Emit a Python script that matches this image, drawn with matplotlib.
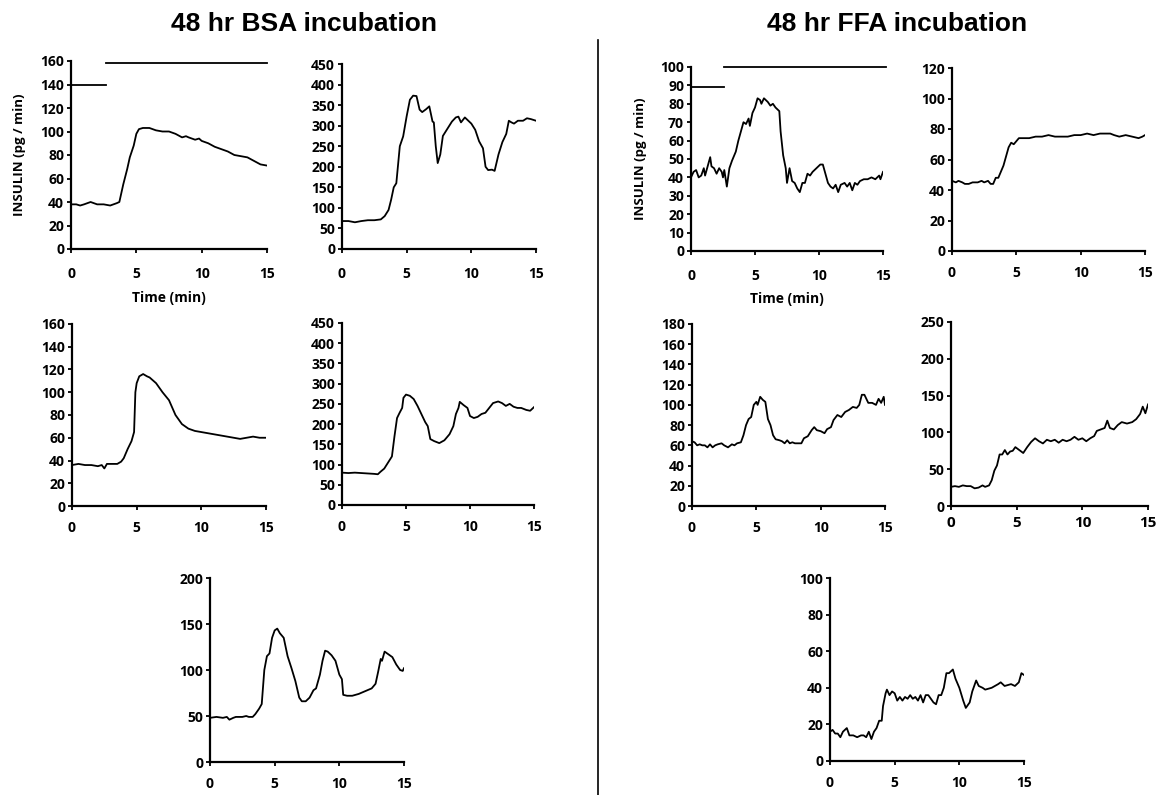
import numpy as np
import matplotlib.pyplot as plt
from matplotlib.lines import Line2D

# ---- data (time in min, insulin in pg/min) ----
bsa1_t = [0, 0.4, 0.7, 1.0, 1.5, 2.0, 2.5, 3.0, 3.5, 3.7, 4.0, 4.3, 4.5, 4.8, 5.0, 5.2, 5.5,
          6.0, 6.5, 7.0, 7.5, 8.0, 8.5, 8.8, 9.0, 9.5, 9.8, 10.0, 10.5, 11.0, 11.5, 12.0,
          12.5, 13.0, 13.5, 14.0, 14.5, 15.0]
bsa1_y = [38, 38, 37, 38, 40, 38, 38, 37, 39, 40, 55, 68, 78, 88, 98, 102, 103,
          103, 101, 100, 100, 98, 95, 96, 95, 93, 94, 92, 90, 87, 85, 83,
          80, 79, 78, 75, 72, 71]

bsa2_t = [0, 0.5, 1.0, 1.5, 2.0, 2.5, 3.0, 3.3, 3.6, 3.8, 4.0, 4.2, 4.47, 4.73, 5.0, 5.25,
          5.5, 5.76, 6.0, 6.2, 6.5, 6.75, 7.0, 7.1, 7.25, 7.4, 7.6, 7.8, 8.0, 8.5, 8.8,
          9.0, 9.2, 9.5, 10.0, 10.3, 10.6, 10.9, 11.1, 11.3, 11.6, 11.8, 12.1, 12.4,
          12.7, 12.9, 13.1, 13.3, 13.6, 14.0, 14.3, 14.6, 15.0]
bsa2_y = [68, 68, 65, 68, 70, 70, 72, 80, 95, 120, 150, 160, 250, 274, 323, 363,
          373, 372, 339, 333, 340, 347, 310, 308, 250, 209, 230, 275, 285, 310, 320,
          322, 308, 320, 305, 290, 262, 245, 200, 192, 193, 190, 230, 260,
          280, 312, 308, 305, 312, 312, 318, 316, 312]

bsa3_t = [0, 0.5, 1.0, 1.5, 2.0, 2.3, 2.5, 2.7, 3.0, 3.5, 3.8, 4.0, 4.3, 4.6, 4.8, 4.9,
          5.0, 5.2, 5.5, 5.8, 6.0, 6.5, 7.0, 7.5, 8.0, 8.5, 9.0, 9.5, 10.0, 10.5, 11.0,
          11.5, 12.0, 12.5, 13.0, 13.5, 14.0, 14.5, 15.0]
bsa3_y = [36, 37, 36, 36, 35, 36, 33, 37, 37, 37, 39, 42, 50, 57, 65, 100,
          108, 114, 116, 114, 113, 108, 100, 93, 80, 72, 68, 66, 65, 64, 63,
          62, 61, 60, 59, 60, 61, 60, 60]

bsa4_t = [0, 0.5, 1.0, 1.5, 2.0, 2.5, 2.8, 3.0, 3.3, 3.6, 3.9, 4.1, 4.3, 4.5, 4.7, 4.8,
          5.0, 5.3, 5.6, 5.9, 6.2, 6.5, 6.7, 6.9, 7.2, 7.6, 8.0, 8.4, 8.7, 8.9, 9.1,
          9.2, 9.5, 9.8, 10.0, 10.3, 10.6, 10.9, 11.2, 11.5, 11.8, 12.2, 12.5, 12.8,
          13.1, 13.4, 13.7, 14.0, 14.4, 14.7, 15.0]
bsa4_y = [80, 79, 80, 79, 78, 77, 76, 82, 90, 105, 120, 170, 215, 228, 240, 265,
          273, 270, 262, 245, 225, 205, 195, 163, 158, 153, 160, 175, 195, 225, 240,
          255, 247, 240, 220, 215, 218, 225, 228, 240, 252, 256, 252, 245,
          250, 243, 240, 240, 235, 233, 242]

bsa5_t = [0, 0.5, 1.0, 1.3, 1.5, 1.8, 2.0, 2.5, 2.8, 3.0, 3.3, 3.5, 3.8, 4.0, 4.2, 4.4,
          4.6, 4.8, 5.0, 5.2, 5.4, 5.7, 6.0, 6.3, 6.6, 6.9, 7.1, 7.4, 7.7, 8.0, 8.2,
          8.5, 8.7, 8.9, 9.1, 9.4, 9.7, 10.0, 10.2, 10.3, 10.6, 11.0, 11.5, 12.0, 12.5,
          12.8, 13.0, 13.2, 13.3, 13.5, 13.8, 14.1, 14.4, 14.7, 14.9, 15.0]
bsa5_y = [48, 49, 48, 49, 46, 48, 49, 49, 50, 49, 49, 52, 58, 63, 100, 115,
          118, 135, 143, 145, 140, 135, 115, 102, 88, 70, 66, 66, 70, 78, 80,
          95, 110, 121, 120, 116, 110, 95, 90, 73, 72, 72, 74, 77, 80,
          85, 98, 112, 110, 120, 117, 114, 106, 100, 99, 102]

ffa1_t = [0, 0.2, 0.4, 0.6, 0.8, 1.0, 1.1, 1.3, 1.5, 1.6, 1.8, 2.0, 2.2, 2.4, 2.5, 2.6,
          2.8, 3.0, 3.2, 3.5, 3.7, 3.9, 4.1, 4.3, 4.5, 4.6, 4.8, 5.0, 5.2, 5.4, 5.5,
          5.7, 6.0, 6.2, 6.4, 6.6, 6.9, 7.0, 7.2, 7.4, 7.5, 7.7, 7.9, 8.1, 8.3, 8.5,
          8.7, 8.9, 9.1, 9.3, 9.5, 9.8, 10.1, 10.3, 10.5, 10.7, 10.9, 11.1, 11.3, 11.5,
          11.7, 12.0, 12.2, 12.4, 12.6, 12.8, 13.0, 13.2, 13.5, 13.8, 14.1, 14.4, 14.7,
          14.8, 15.0]
ffa1_y = [40, 43, 44, 40, 41, 45, 41, 46, 51, 46, 45, 42, 45, 43, 40, 44,
          35, 45, 49, 54, 60, 65, 70, 69, 72, 68, 75, 78, 83, 82, 80,
          83, 81, 79, 80, 78, 76, 65, 52, 45, 37, 45, 38, 37, 34, 32,
          37, 37, 42, 41, 43, 45, 47, 47, 42, 37, 35, 34, 36, 32,
          36, 37, 35, 37, 33, 37, 36, 38, 39, 39, 40, 39, 41,
          39, 43]

ffa2_t = [0, 0.3, 0.5, 0.8, 1.0, 1.3, 1.6, 2.0, 2.3, 2.5, 2.8, 3.0, 3.2, 3.4, 3.6, 3.8,
          4.0, 4.2, 4.4, 4.6, 4.8, 5.0, 5.2, 5.5, 6.0, 6.5, 7.0, 7.5, 8.0, 8.5, 9.0,
          9.5, 10.0, 10.5, 11.0, 11.5, 12.0, 12.3, 12.6, 13.0, 13.5, 14.0, 14.5, 14.8, 15.0]
ffa2_y = [46, 45, 46, 45, 44, 44, 45, 45, 46, 45, 46, 44, 44, 48, 48, 52,
          56, 62, 68, 71, 70, 72, 74, 74, 74, 75, 75, 76, 75, 75, 75,
          76, 76, 77, 76, 77, 77, 77, 76, 75, 76, 75, 74, 75, 76]

ffa3_t = [0, 0.2, 0.4, 0.6, 0.8, 1.0, 1.2, 1.4, 1.6, 1.8, 2.0, 2.3, 2.5, 2.8, 3.1, 3.3,
          3.5, 3.8, 4.0, 4.2, 4.4, 4.6, 4.8, 5.0, 5.1, 5.3, 5.5, 5.7, 5.9, 6.1, 6.3,
          6.5, 6.8, 7.0, 7.2, 7.4, 7.6, 7.8, 8.0, 8.3, 8.5, 8.7, 9.0, 9.3, 9.5, 9.7,
          10.0, 10.3, 10.5, 10.8, 11.0, 11.3, 11.6, 11.9, 12.2, 12.5, 12.8, 13.0, 13.2,
          13.4, 13.7, 14.0, 14.3, 14.5, 14.7, 14.9, 15.0]
ffa3_y = [64, 63, 60, 61, 60, 60, 58, 61, 58, 60, 61, 62, 60, 58, 61, 60,
          62, 63, 70, 80, 86, 88, 100, 103, 100, 108, 105, 103, 86, 80, 70,
          66, 65, 64, 62, 65, 62, 63, 62, 62, 62, 67, 69, 75, 78, 75,
          74, 72, 76, 78, 85, 90, 88, 93, 95, 98, 97, 100, 110,
          110, 102, 102, 100, 106, 102, 108, 100]

ffa4_t = [0, 0.3, 0.6, 0.9, 1.2, 1.5, 1.8, 2.1, 2.4, 2.6, 2.9, 3.1, 3.3, 3.5, 3.7, 3.9,
          4.1, 4.3, 4.5, 4.7, 4.9, 5.2, 5.5, 5.8, 6.1, 6.4, 6.7, 7.0, 7.3, 7.6, 7.9,
          8.2, 8.5, 8.8, 9.1, 9.4, 9.7, 10.0, 10.3, 10.6, 10.9, 11.1, 11.4, 11.7, 11.9,
          12.1, 12.4, 12.7, 13.0, 13.4, 13.8, 14.1, 14.4, 14.6, 14.8, 15.0]
ffa4_y = [26, 27, 26, 28, 27, 27, 24, 25, 28, 26, 28, 35, 48, 55, 70, 70,
          76, 70, 74, 75, 80, 76, 72, 80, 87, 92, 88, 85, 90, 88, 90,
          86, 90, 88, 90, 94, 90, 92, 88, 92, 95, 102, 104, 106, 116,
          106, 104, 110, 114, 112, 114, 118, 125, 135, 126, 138]

ffa5_t = [0, 0.2, 0.4, 0.6, 0.8, 1.0, 1.3, 1.5, 1.8, 2.1, 2.4, 2.6, 2.8, 3.0, 3.2, 3.4,
          3.6, 3.8, 4.0, 4.1, 4.3, 4.4, 4.6, 4.8, 5.0, 5.2, 5.4, 5.6, 5.8, 6.0, 6.2,
          6.4, 6.6, 6.8, 7.0, 7.2, 7.4, 7.6, 7.8, 8.0, 8.2, 8.4, 8.6, 8.8, 9.0, 9.2,
          9.5, 9.7, 10.0, 10.3, 10.5, 10.8, 11.0, 11.3, 11.5, 11.8, 12.0, 12.5, 13.0,
          13.2, 13.5, 14.0, 14.3, 14.6, 14.8, 15.0]
ffa5_y = [16, 17, 15, 15, 13, 16, 18, 14, 14, 13, 14, 14, 13, 16, 12, 16,
          18, 22, 22, 30, 37, 39, 36, 38, 37, 33, 35, 33, 35, 34, 36,
          34, 35, 33, 36, 32, 36, 36, 34, 32, 31, 36, 36, 40, 48, 48,
          50, 45, 40, 33, 29, 32, 38, 44, 41, 40, 39, 40, 42,
          43, 41, 42, 41, 43, 48, 47]

# stimulus bars drawn above the first panel of each group
bsa_low_bar = ([0, 2.65], [140, 140])
bsa_high_bar = ([2.65, 15], [158, 158])
ffa_low_bar = ([0, 2.6], [89, 89])
ffa_high_bar = ([2.55, 15.2], [100, 100])

W, H = 1161, 795
TICK_FONT = ["Open Sans", "DejaVu Sans"]


def add_panel(fig, box, t, y, ymax, ystep, fs=10, xfs=None, xpad=8):
    # box = (left, top, right, bottom) in pixels
    l, top, r, b = box
    ax = fig.add_axes([l / W, 1 - b / H, (r - l) / W, (b - top) / H])
    ax.plot(t, y, color="black", lw=1.3)
    ax.set_xlim(0, 15)
    ax.set_ylim(0, ymax)
    ax.set_xticks([0, 5, 10, 15])
    ax.set_yticks(np.arange(0, ymax + 1, ystep))
    for s in ["top", "right"]:
        ax.spines[s].set_visible(False)
    for s in ["left", "bottom"]:
        ax.spines[s].set_linewidth(1.6)
    ax.tick_params(direction="out", length=3, width=1.3, pad=2)
    ax.tick_params(axis="x", pad=xpad)
    for lab in ax.get_yticklabels():
        lab.set_fontsize(fs)
        lab.set_fontweight("bold")
        lab.set_family(TICK_FONT)
    for lab in ax.get_xticklabels():
        lab.set_fontsize(xfs or fs)
        lab.set_fontweight("bold")
        lab.set_family(TICK_FONT)
    ax.patch.set_alpha(0)
    return ax


fig = plt.figure(figsize=(W / 100, H / 100), dpi=100)

ax1 = add_panel(fig, (71, 61, 267, 249), bsa1_t, bsa1_y, 160, 20, xpad=10)
add_panel(fig, (342, 64, 536, 249), bsa2_t, bsa2_y, 450, 50, xpad=10)
add_panel(fig, (72, 324, 266, 506), bsa3_t, bsa3_y, 160, 20)
add_panel(fig, (342, 323, 534, 505), bsa4_t, bsa4_y, 450, 50)
add_panel(fig, (210, 578, 404, 762), bsa5_t, bsa5_y, 200, 50)

ax6 = add_panel(fig, (691, 67, 883, 251), ffa1_t, ffa1_y, 100, 10, xpad=10)
add_panel(fig, (952, 68, 1145, 251), ffa2_t, ffa2_y, 120, 20)
add_panel(fig, (692, 324, 885, 506), ffa3_t, ffa3_y, 180, 20)
add_panel(fig, (951, 322, 1148, 506), ffa4_t, ffa4_y, 250, 50, xfs=11, xpad=4)
add_panel(fig, (830, 578, 1024, 761), ffa5_t, ffa5_y, 100, 20)

for ax, low, high in [(ax1, bsa_low_bar, bsa_high_bar), (ax6, ffa_low_bar, ffa_high_bar)]:
    ax.plot(*low, color="black", lw=1.3, clip_on=False)
    ax.plot(*high, color="black", lw=1.3, clip_on=False)
    ax.set_ylabel("INSULIN (pg / min)", fontsize=9.5, fontweight="bold",
                  family=TICK_FONT, va="center")
    ax.yaxis.set_label_coords(-0.265, 0.5)
    ax.set_xlabel("Time (min)", fontsize=10, fontweight="bold",
                  family=TICK_FONT, va="center")
    ax.xaxis.set_label_coords(0.5, -0.26)

fig.text(304 / W, 1 - 31 / H, "48 hr BSA incubation", ha="center", va="baseline",
         fontsize=19, fontweight="bold", family="Liberation Sans")
fig.text(897 / W, 1 - 31 / H, "48 hr FFA incubation", ha="center", va="baseline",
         fontsize=19, fontweight="bold", family="Liberation Sans")

# divider between the two groups
fig.add_artist(Line2D([598 / W, 598 / W], [0, 1 - 40 / H], color="black", lw=1.2,
                      transform=fig.transFigure))

fig.savefig("out.png", dpi=100)
